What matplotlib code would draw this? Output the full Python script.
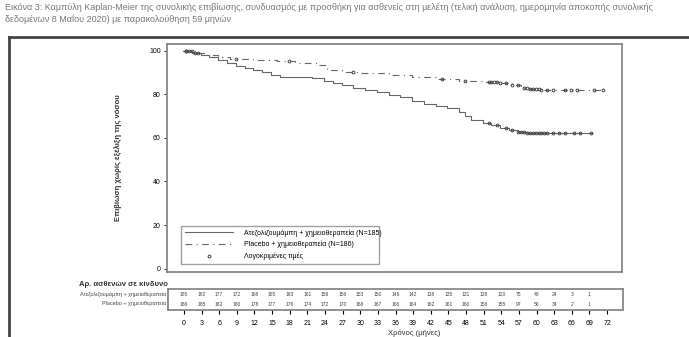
import numpy as np
import matplotlib
matplotlib.use("Agg")
import matplotlib.pyplot as plt
from matplotlib.lines import Line2D

plt.rcParams['font.family'] = ['Liberation Sans Narrow', 'Liberation Sans', 'DejaVu Sans']

# ---- data ----
# step curve: time of each drop (months) and survival (%) after it
solid_t = [0, 1.5, 3, 4.5, 6, 7.5, 9, 10.5, 12, 13.5, 15, 16.5, 22, 24, 25.5, 27, 29, 31, 33,
           35, 37, 39, 41, 43, 45, 47, 48, 49, 51, 52.5, 54, 55.5, 57, 58.5, 69.6]
solid_s = [100, 99, 98, 97, 95.5, 94.5, 93, 92, 91, 90, 89, 88, 87.5, 86, 85, 84, 83, 82, 81,
           79.5, 78.5, 77, 75.5, 74.5, 73.5, 72, 70, 68, 67, 66, 64.5, 63.5, 62.5, 62, 62]
dash_t = [0, 2, 4, 6, 8, 12, 16, 19, 23, 24.5, 27, 30, 35, 39, 43, 47, 51, 54, 56, 57.5,
          59, 61, 71.5]
dash_s = [100, 99, 98, 97, 96, 95.5, 95, 94.5, 93.5, 91, 90, 89.5, 89, 88, 87, 86, 85.5, 85,
          84, 83, 82.5, 82, 82]

solid_cens = [0.5, 1, 2, 52, 53.5, 55, 56, 57, 57.5, 58, 58.5, 59, 59.5, 60, 60.5, 61,
              61.5, 62, 63, 64, 65, 66.5, 67.5, 69.5]
dash_cens = [0.5, 1.5, 2.5, 9, 18, 29, 44, 48, 52, 52.5, 53, 53.5, 54, 55,
             56, 57, 58, 58.5, 59, 59.5, 60, 60.5, 61, 62, 63, 65, 66, 67, 70, 71.5]

risk_times = list(range(0, 70, 3))
risk_solid = [185, 182, 177, 172, 168, 165, 163, 161, 159, 156, 153, 150, 146, 142, 138, 135,
              131, 128, 120, 75, 48, 24, 3, 1]
risk_dash = [186, 185, 182, 180, 178, 177, 176, 174, 172, 170, 168, 167, 166, 164, 162, 161,
             160, 158, 155, 97, 58, 34, 2, 1]

xticks = list(range(0, 73, 3))
yticks = [0, 20, 40, 60, 80, 100]

lab_solid = "Ατεζολιζουμάμπη + χημειοθεραπεία"
lab_dash = "Placebo + χημειοθεραπεία"
lab_cens = "Λογοκριμένες τιμές"

W, H = 689, 337
fig = plt.figure(figsize=(W / 100, H / 100), dpi=100)

def fx(px):
    return px / W

def fy(py):
    return 1 - py / H

# title
fig.text(fx(5), fy(7), "Εικόνα 3: Καμπύλη Kaplan-Meier της συνολικής επιβίωσης, συνδυασμός με προσθήκη για ασθενείς στη μελέτη "
         "(τελική ανάλυση, ημερομηνία αποκοπής συνολικής", fontsize=6.5, color='#777777', va='center')
fig.text(fx(5), fy(19), "δεδομένων 8 Μαΐου 2020) με παρακολούθηση 59 μηνών",
         fontsize=6.5, color='#777777', va='center')

# outer frame (cut at right/bottom)
fig.add_artist(Line2D([fx(9), 1.0], [fy(37), fy(37)], color='#444444', lw=2))
fig.add_artist(Line2D([fx(9), fx(9)], [fy(37), 0], color='#444444', lw=2))

# main axes
ax = fig.add_axes([fx(167), fy(272), fx(622) - fx(167), fy(44) - fy(272)])
ax.step(solid_t, solid_s, where='post', color='#666666', lw=0.8)
ax.step(dash_t, dash_s, where='post', color='#666666', lw=0.8, ls=(0, (6, 4, 1, 4)))

def step_at(t, ts, ss):
    i = np.searchsorted(ts, t, side='right') - 1
    return np.array(ss)[i]

ax.plot(solid_cens, step_at(solid_cens, solid_t, solid_s), 'o', ms=2, mfc='none',
        mec='#444444', mew=0.7)
ax.plot(dash_cens, step_at(dash_cens, dash_t, dash_s), 'o', ms=2, mfc='none',
        mec='#444444', mew=0.7)

ax.set_xlim(-2.7, 74.7)
ax.set_ylim(-1.5, 103)
ax.set_yticks(yticks)
ax.set_yticklabels([str(v) for v in yticks], fontsize=5)
ax.set_xticks([])
ax.tick_params(axis='y', length=2.5, width=0.6, pad=2)
for sp in ax.spines.values():
    sp.set_color('#888888')
    sp.set_linewidth(1.3)

h1 = Line2D([], [], color='#666666', lw=0.8)
h2 = Line2D([], [], color='#666666', lw=0.8, ls=(0, (6, 4, 1, 4)))
h3 = Line2D([], [], ls='none', marker='o', ms=2, mfc='none', mec='#444444', mew=0.7)
leg = ax.legend([h1, h2, h3],
                [lab_solid + " (N=185)", lab_dash + " (N=186)", lab_cens],
                loc='lower left', bbox_to_anchor=(0.024, 0.022, 0.45, 0.14), mode='expand',
                fontsize=5, handlelength=7, frameon=True, fancybox=False,
                borderpad=0.5, labelspacing=0.6, handletextpad=1.5)
leg.get_frame().set_edgecolor('#888888')
leg.get_frame().set_linewidth(1.0)

fig.text(fx(118), fy(158), "Επιβίωση χωρίς εξέλιξη της νόσου", rotation=90,
         fontsize=5.5, ha='center', va='center', fontweight='bold', color='#333333')

# risk table
tab = fig.add_axes([fx(168), fy(310), fx(623) - fx(168), fy(289) - fy(310)])
tab.set_xlim(-2.7, 74.7)
tab.set_ylim(0, 1)
for t, n in zip(risk_times, risk_solid):
    tab.text(t, 0.74, str(n), fontsize=3.6, ha='center', va='center', color='#444444')
for t, n in zip(risk_times, risk_dash):
    tab.text(t, 0.28, str(n), fontsize=3.6, ha='center', va='center', color='#444444')
tab.set_yticks([])
tab.set_xticks(xticks)
tab.set_xticklabels([str(v) for v in xticks], fontsize=5)
tab.tick_params(axis='x', length=3, width=0.8, pad=4)
for sp in tab.spines.values():
    sp.set_color('#888888')
    sp.set_linewidth(1.3)

fig.text(fx(168), fy(284), "Αρ. ασθενών σε κίνδυνο", fontsize=5.5, ha='right', va='center',
         fontweight='bold', color='#333333')
fig.text(fx(166), fy(294), lab_solid, fontsize=4, ha='right', va='center', color='#444444')
fig.text(fx(166), fy(304), lab_dash, fontsize=4, ha='right', va='center', color='#444444')
fig.text(fx(414), fy(333), "Χρόνος (μήνες)", fontsize=5.5, ha='center', va='center',
         color='#333333')

fig.savefig("out.png", dpi=100)
